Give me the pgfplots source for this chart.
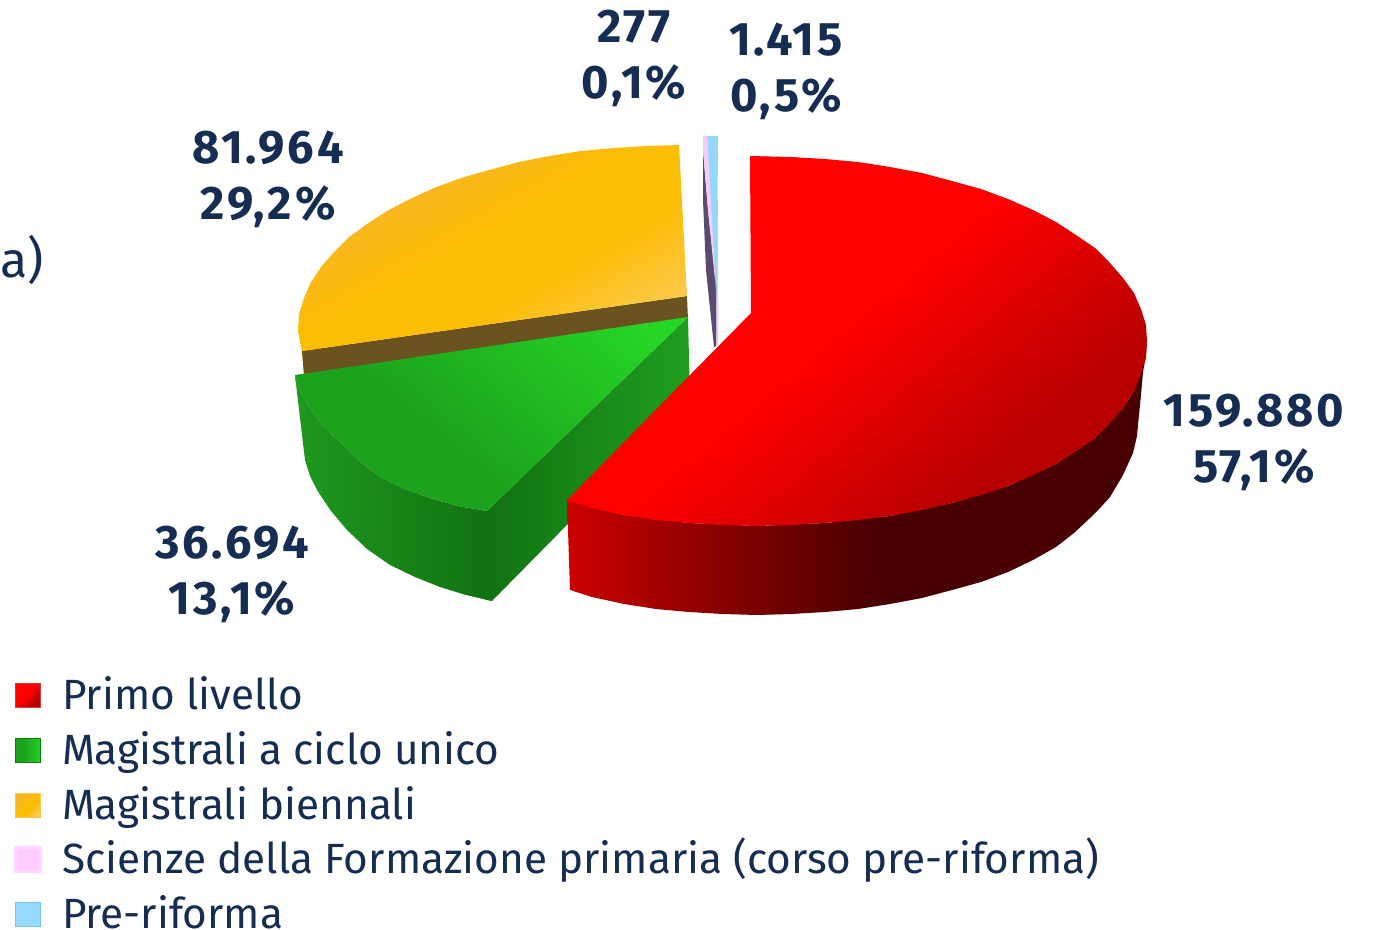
\documentclass[border=0pt]{standalone}
\usepackage{pgfplots}
\pgfplotsset{compat=1.18}
\usepackage{fontspec}
\setmainfont{Fira Sans}
\definecolor{navy}{HTML}{152D52}
\pgfdeclarehorizontalshading{redtop}{100bp}{color(0bp)=(red); color(48bp)=(red); color(70bp)=(black!28!red); color(100bp)=(black!28!red)}
\pgfdeclarehorizontalshading{redside}{100bp}{rgb(0bp)=(.80,0,0); rgb(25bp)=(.80,0,0); rgb(38bp)=(.54,0,0); rgb(51bp)=(.29,0,0); rgb(100bp)=(.27,0,0)}
\pgfdeclarehorizontalshading{greenside}{100bp}{rgb(0bp)=(.12,.60,.12); rgb(25bp)=(.12,.60,.12); rgb(75bp)=(.07,.44,.07); rgb(100bp)=(.07,.44,.07)}
\pgfdeclarehorizontalshading{greeninner}{100bp}{rgb(0bp)=(.07,.44,.07); rgb(25bp)=(.07,.44,.07); rgb(75bp)=(.12,.62,.12); rgb(100bp)=(.12,.62,.12)}
\pgfdeclarehorizontalshading{greentop}{100bp}{rgb(0bp)=(.11,.63,.11); rgb(40bp)=(.11,.63,.11); rgb(80bp)=(.15,.84,.15); rgb(100bp)=(.15,.84,.15)}
\pgfdeclarehorizontalshading{goldtop}{100bp}{rgb(0bp)=(.97,.71,.16); rgb(30bp)=(.97,.71,.16); rgb(46bp)=(.99,.74,.02); rgb(60bp)=(.99,.74,.02); rgb(75bp)=(.99,.79,.30); rgb(100bp)=(.99,.79,.30)}
\begin{document}
\begin{tikzpicture}
\path[use as bounding box, clip] (0,0) rectangle (1376pt,929pt);
\begin{axis}[
  at={(0,0)}, anchor=south west,
  scale only axis, width=1376pt, height=929pt,
  xmin=0, xmax=1376, ymin=0, ymax=929, y dir=reverse,
  axis lines=none, ticks=none, clip=false,
  legend cell align=left,
  legend image code/.code={\draw[#1] (0pt,-8pt) rectangle (25pt,16pt);},
  legend style={at={(axis cs:14,679.5)}, anchor=north west, draw=none, fill=none,
    inner sep=0pt, outer sep=0pt, row sep=14.8pt, column sep=9pt,
    font=\fontsize{42.3}{50}\selectfont\color{navy},
    nodes={inner xsep=11pt, inner ysep=0pt, text height=30pt, text depth=10pt}},
]
% gold rim
\addplot[forget plot, draw=none, fill={rgb,1:red,.99;green,.74;blue,.02}] coordinates {(298,330) (302,352) (305,378) (320,378) (320,330)} -- cycle;
% brown cut face
\addplot[forget plot, draw=none, fill={rgb,255:red,107;green,83;blue,32}] coordinates {(302,351) (687,296) (688,320) (304,376)} -- cycle;
% gold top
\addplot[forget plot, draw=none, shading=goldtop, shading angle=-60] coordinates {(679,145) (647,146) (614,148) (581,151) (549,156) (519,162) (489,170) (461,178) (434,188) (410,199) (387,211) (367,224) (349,237) (334,252) (321,267) (311,282) (304,298) (299,314) (298,330) (302,351) (687,296)} -- cycle;
% slivers
\addplot[forget plot, draw=none, fill={rgb,255:red,220;green,205;blue,240}] coordinates {(712,200) (718,200) (718,345) (714,347)} -- cycle;
\addplot[forget plot, draw=none, fill={rgb,255:red,151;green,215;blue,252}] coordinates {(707,136) (718,136) (717,290) (716,300)} -- cycle;
\addplot[forget plot, draw=none, fill={rgb,255:red,90;green,75;blue,110}] coordinates {(703,150) (708,210) (716,285) (716,346) (714,347) (706,270) (703,200)} -- cycle;
\addplot[forget plot, draw=none, fill={rgb,255:red,245;green,205;blue,245}] coordinates {(703,135) (707,136) (716,290) (708,210) (703,150)} -- cycle;
% green inner face
\addplot[forget plot, draw=none, shading=greeninner] coordinates {(688,317) (690,400) (492,601) (480,598) (480,511) (487,511)} -- cycle;
% green outer face
\addplot[forget plot, draw=none, shading=greenside] coordinates {(295,375) (300,390) (307,403) (318,419) (330,433) (345,447) (362,463) (380,477) (405,489) (430,498) (458,506) (487,511) (492,601) (466,595) (440,587) (415,577) (390,565) (367,549) (347,530) (331,511) (317,490) (310,476) (305,460) (300,418)} -- cycle;
% green top
\addplot[forget plot, draw=none, shading=greentop, shading angle=50] coordinates {(295,375) (688,317) (487,511) (458,506) (430,498) (405,489) (380,477) (362,463) (345,447) (330,433) (318,419) (307,403) (300,390)} -- cycle;
% red side
\addplot[forget plot, draw=none, shading=redside] coordinates {(1147,341) (1134,391) (1123,408) (1095,438) (1056,464) (1008,486) (952,503) (890,516) (825,523) (757,526) (689,523) (624,515) (567,500) (570,590) (592,597) (624,604) (656,609) (689,612) (723,614) (757,615) (791,614) (825,612) (858,609) (890,604) (922,598) (952,590) (981,582) (1008,572) (1033,560) (1056,547) (1074,533) (1090,518) (1101,507) (1110,497) (1123,475) (1133,453) (1137,436) (1138,425) (1141,395) (1143,372) (1146,355)} -- cycle;
% red top
\addplot[forget plot, draw=none, shading=redtop, shading angle=-50] coordinates {(751,313) (750,156) (791,157) (825,159) (858,162) (890,167) (922,173) (952,181) (981,189) (1008,199) (1033,210) (1056,222) (1076,235) (1095,248) (1110,263) (1123,278) (1134,293) (1141,309) (1146,325) (1147,341) (1146,358) (1141,374) (1134,391) (1123,408) (1110,423) (1095,438) (1076,451) (1056,464) (1033,475) (1008,486) (981,495) (952,503) (922,510) (890,516) (858,520) (825,523) (791,525) (757,526) (723,525) (689,523) (656,520) (624,515) (592,508) (567,500)} -- cycle;
% labels
\node[font=\fontsize{47}{56}\selectfont\bfseries\addfontfeature{LetterSpace=6}, text=navy, align=center] at (axis cs:1254,442) {159.880\\57,1\%};
\node[font=\fontsize{47}{56}\selectfont\bfseries\addfontfeature{LetterSpace=6}, text=navy, align=center] at (axis cs:232,574) {36.694\\13,1\%};
\node[font=\fontsize{47}{56}\selectfont\bfseries\addfontfeature{LetterSpace=6}, text=navy, align=center] at (axis cs:268,179) {81.964\\29,2\%};
\node[font=\fontsize{47}{56}\selectfont\bfseries\addfontfeature{LetterSpace=6}, text=navy, align=center] at (axis cs:634,58) {277\\0,1\%};
\node[font=\fontsize{47}{56}\selectfont\bfseries\addfontfeature{LetterSpace=6}, text=navy, align=center] at (axis cs:786,71) {1.415\\0,5\%};
\node[font=\fontsize{50}{56}\selectfont, text=navy, anchor=east, inner sep=0pt] at (axis cs:44,260) {a)};
% legend
\addlegendimage{shade, shading=redtop, shading angle=-45, draw={rgb,255:red,215;green,60;blue,60}}
\addlegendimage{shade, shading=greentop, shading angle=0, draw={rgb,255:red,10;green,130;blue,10}}
\addlegendimage{shade, shading=goldtop, shading angle=-45, draw={rgb,255:red,252;green,200;blue,70}}
\addlegendimage{fill={rgb,255:red,255;green,204;blue,255}, draw={rgb,255:red,255;green,215;blue,255}, line width=3pt}
\addlegendimage{fill={rgb,255:red,153;green,217;blue,255}, draw={rgb,255:red,110;green,200;blue,250}, line width=1pt}
\legend{Primo livello, Magistrali a ciclo unico, Magistrali biennali, Scienze della Formazione primaria (corso pre-riforma), Pre-riforma}
\end{axis}
\end{tikzpicture}
\end{document}
